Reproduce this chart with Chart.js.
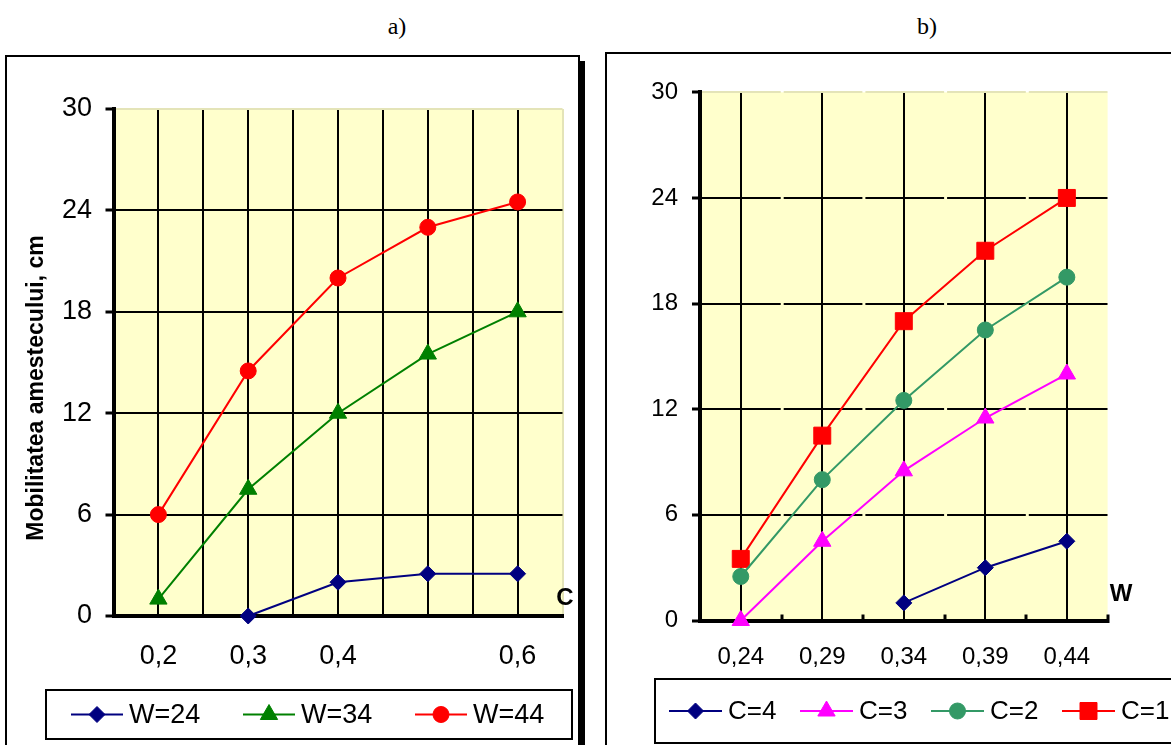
<!DOCTYPE html>
<html>
<head>
<meta charset="utf-8">
<title>Mobilitatea amestecului</title>
<script src="https://cdn.jsdelivr.net/npm/chart.js@4.4.1/dist/chart.umd.min.js"></script>
<style>
  html, body { margin: 0; padding: 0; background: #fff; }
  body { width: 1171px; height: 745px; position: relative; overflow: hidden; }
  .caption { position: absolute; top: 12px; font-family: "Liberation Serif", "Times New Roman", serif; font-size: 24px; line-height: 28px; transform: translateX(-50%); }
  .frame { position: absolute; border: 2px solid #000; background: #fff; }
  #frameA { left: 5px; top: 55px; width: 571px; height: 720px; box-shadow: 5px 6px 0 #000; }
  #frameB { left: 605px; top: 52px; width: 620px; height: 720px; }
  canvas { position: absolute; }
  #chartA { left: 0; top: 40px; }
  #chartB { left: 595px; top: 40px; }
</style>
</head>
<body>
<div class="caption" style="left:397px">a)</div>
<div class="caption" style="left:927px">b)</div>
<div class="frame" id="frameA"></div>
<div class="frame" id="frameB"></div>
<canvas id="chartA" width="590" height="705"></canvas>
<canvas id="chartB" width="576" height="705"></canvas>

<script>
  "use strict";

  // shared y axis
  const Y_TICKS = [0, 6, 12, 18, 24, 30];

  // a) mobility vs C, one line per W
  const C_VALUES = [0.2, 0.3, 0.4, 0.5, 0.6];
  const C_TICKS = [0.15, 0.2, 0.25, 0.3, 0.35, 0.4, 0.45, 0.5, 0.55, 0.6, 0.65];
  const C_TICK_LABELS = ["", "0,2", "", "0,3", "", "0,4", "", "", "", "0,6", ""];
  const W24 = [null, 0, 2, 2.5, 2.5];
  const W34 = [1, 7.5, 12, 15.5, 18];
  const W44 = [6, 14.5, 20, 23, 24.5];

  // b) mobility vs W, one line per C
  const W_VALUES = [0.24, 0.29, 0.34, 0.39, 0.44];
  const W_TICKS = [0.215, 0.24, 0.265, 0.29, 0.315, 0.34, 0.365, 0.39, 0.415, 0.44, 0.465];
  const W_TICK_LABELS = ["", "0,24", "", "0,29", "", "0,34", "", "0,39", "", "0,44", ""];
  const C4 = [null, null, 1, 3, 4.5];
  const C3 = [0, 4.5, 8.5, 11.5, 14];
  const C2 = [2.5, 8, 12.5, 16.5, 19.5];
  const C1 = [3.5, 10.5, 17, 21, 24];

  const FONT = '"Liberation Sans", Arial, sans-serif';
  const PLOT_BG = "#FFFFCC";
  const EDGE = "#e4e4b8";

  Chart.defaults.font.family = FONT;
  Chart.defaults.color = "#000";

  function seriesPoints(xs, ys) {
    return xs.map((x, i) => ({ x: x, y: ys[i] }));
  }

  function series(label, xs, ys, color, style, radius) {
    return {
      label: label,
      data: seriesPoints(xs, ys),
      borderColor: color,
      backgroundColor: color,
      borderWidth: 2,
      pointStyle: style,
      pointRadius: radius,
      pointHoverRadius: radius,
      pointBorderWidth: 1,
      tension: 0,
      clip: false
    };
  }

  const plotBackground = {
    id: "plotBackground",
    beforeDraw(chart, args, opts) {
      const { ctx, chartArea: a } = chart;
      ctx.save();
      ctx.fillStyle = opts.color;
      ctx.fillRect(a.left, a.top, a.right - a.left, a.bottom - a.top);
      ctx.restore();
    }
  };

  // boxed legend: line + marker + label for each dataset
  const boxedLegend = {
    id: "boxedLegend",
    afterDraw(chart, args, opts) {
      const { ctx } = chart;
      const cy = opts.top + opts.height / 2;
      ctx.save();
      ctx.lineWidth = 2;
      ctx.strokeStyle = "#000";
      ctx.strokeRect(opts.left, opts.top, opts.width, opts.height);
      chart.data.datasets.forEach((ds, i) => {
        const x0 = opts.startX + i * opts.step;
        ctx.strokeStyle = ds.borderColor;
        ctx.lineWidth = 2;
        ctx.beginPath();
        ctx.moveTo(x0, cy);
        ctx.lineTo(x0 + opts.lineLen, cy);
        ctx.stroke();
        ctx.fillStyle = ds.backgroundColor;
        ctx.lineWidth = 1;
        Chart.helpers.drawPoint(ctx, {
          pointStyle: ds.pointStyle, radius: ds.pointRadius, borderWidth: 1, rotation: 0
        }, x0 + opts.lineLen / 2, cy);
        ctx.fillStyle = "#000";
        ctx.font = opts.font;
        ctx.textAlign = "left";
        ctx.textBaseline = "middle";
        ctx.fillText(ds.label, x0 + opts.lineLen + opts.gap, cy + 1);
      });
      ctx.restore();
    }
  };

  const axisNotes = {
    id: "axisNotes",
    afterDraw(chart, args, opts) {
      const { ctx } = chart;
      (opts.items || []).forEach((it) => {
        ctx.save();
        ctx.translate(it.x, it.y);
        ctx.rotate(it.rotation || 0);
        ctx.font = it.font;
        ctx.fillStyle = "#000";
        ctx.textAlign = "center";
        ctx.textBaseline = "middle";
        ctx.fillText(it.text, 0, 0);
        ctx.restore();
      });
    }
  };

  function buildChart(canvasId, p) {
    return new Chart(document.getElementById(canvasId), {
      type: "line",
      data: { datasets: p.datasets },
      plugins: [plotBackground, boxedLegend, axisNotes],
      options: {
        responsive: false,
        animation: false,
        devicePixelRatio: 1,
        layout: { padding: { top: p.padTop, right: p.padRight, left: 0, bottom: 0 } },
        plugins: {
          legend: { display: false },
          tooltip: { enabled: false },
          plotBackground: { color: PLOT_BG },
          boxedLegend: p.legend,
          axisNotes: { items: p.notes }
        },
        scales: {
          x: {
            type: "linear",
            min: p.xTicks[0],
            max: p.xTicks[p.xTicks.length - 1],
            afterBuildTicks: (s) => { s.ticks = p.xTicks.map((v) => ({ value: v })); },
            afterFit: (s) => { s.height = p.xHeight; },
            ticks: {
              autoSkip: false,
              maxRotation: 0,
              padding: p.xPad,
              font: { size: p.tickSize },
              color: "#000",
              callback: (v, i) => p.xLabels[i]
            },
            grid: {
              lineWidth: 2,
              color: p.xGridColor,
              drawTicks: p.xTickLen !== 0,
              tickLength: p.xTickLen,
              tickColor: p.xTickColor,
              tickWidth: 3
            },
            border: { display: true, color: "#000", width: 4 }
          },
          y: {
            min: 0,
            max: 30,
            afterBuildTicks: (s) => { s.ticks = Y_TICKS.map((v) => ({ value: v })); },
            afterFit: (s) => { s.width = p.yWidth; },
            ticks: {
              padding: p.yPad,
              font: { size: p.tickSize },
              color: "#000",
              callback: (v) => String(v)
            },
            grid: {
              lineWidth: 2,
              color: (c) => (c.tick && c.tick.value === 30 ? EDGE : "#000"),
              tickLength: 8,
              tickColor: "#000",
              tickWidth: 3
            },
            border: { display: true, color: "#000", width: 4, dash: p.yDash }
          }
        }
      }
    });
  }

  buildChart("chartA", {
    datasets: [
      series("W=24", C_VALUES, W24, "#000080", "rectRot", 8),
      series("W=34", C_VALUES, W34, "#008000", "triangle", 10),
      series("W=44", C_VALUES, W44, "#FF0000", "circle", 8)
    ],
    xTicks: C_TICKS,
    xLabels: C_TICK_LABELS,
    xGridColor: (c) => (c.index === C_TICKS.length - 1 ? EDGE : "#000"),
    xTickColor: "rgba(0,0,0,0)",
    xTickLen: 0,
    xPad: 24,
    xHeight: 129,
    yWidth: 113.5,
    yPad: 13.5,
    yDash: [],
    padTop: 69,
    padRight: 27.5,
    tickSize: 27,
    legend: { left: 46, top: 650, width: 526, height: 49, startX: 71, step: 172, lineLen: 52, gap: 6, font: "27px " + FONT },
    notes: [
      { text: "Mobilitatea amestecului, cm", x: 37, y: 348, rotation: -Math.PI / 2, font: "bold 23px " + FONT },
      { text: "C", x: 565, y: 558, font: "bold 24px " + FONT }
    ]
  });

  buildChart("chartB", {
    datasets: [
      series("C=4", W_VALUES, C4, "#000080", "rectRot", 8),
      series("C=3", W_VALUES, C3, "#FF00FF", "triangle", 10),
      series("C=2", W_VALUES, C2, "#339966", "circle", 8),
      series("C=1", W_VALUES, C1, "#FF0000", "rect", 12)
    ],
    xTicks: W_TICKS,
    xLabels: W_TICK_LABELS,
    xGridColor: (c) => (W_TICK_LABELS[c.index] ? "#000" : "rgba(0,0,0,0)"),
    xTickColor: (c) => (W_TICK_LABELS[c.index] ? "rgba(0,0,0,0)" : "#000"),
    xTickLen: -6,
    xPad: 28,
    xHeight: 124.5,
    yWidth: 105,
    yPad: 14,
    yDash: [78.7, 3],
    padTop: 52.3,
    padRight: 63.4,
    tickSize: 24,
    legend: { left: 60, top: 639, width: 620, height: 64, startX: 74, step: 131, lineLen: 53, gap: 6, font: "26px " + FONT },
    notes: [
      { text: "W", x: 526, y: 554, font: "bold 24px " + FONT }
    ]
  });
</script>
</body>
</html>
